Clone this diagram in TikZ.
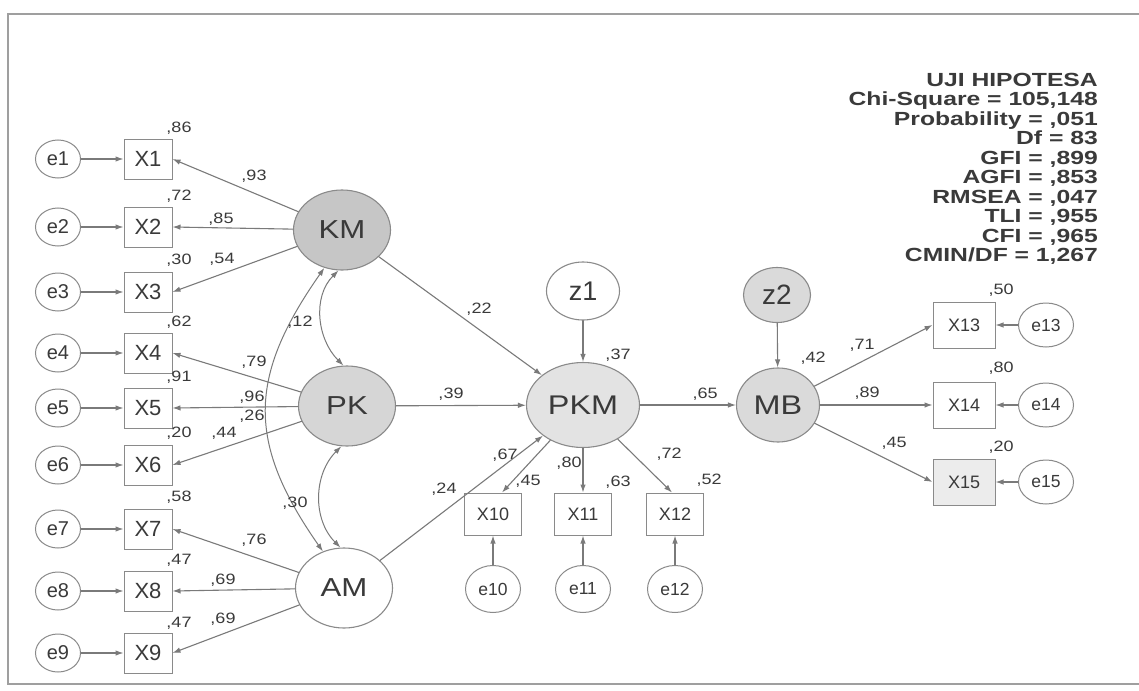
\documentclass[tikz,border=0pt]{standalone}
\usepackage{fontspec}
\setmainfont{Liberation Sans}
\newfontfamily\widesans[FakeStretch=1.2]{Liberation Sans}
\newfontfamily\statsans[FakeStretch=1.3]{Liberation Sans}
\usetikzlibrary{shapes.geometric,arrows.meta}

\definecolor{linegray}{HTML}{7A7A7A}
\definecolor{edgegray}{HTML}{8A8A8A}
\definecolor{txtgray}{HTML}{3A3A3A}
\definecolor{fillKM}{HTML}{C6C6C6}
\definecolor{fillPK}{HTML}{D6D6D6}
\definecolor{fillPKM}{HTML}{E3E3E3}
\definecolor{fillMB}{HTML}{DADADA}

\begin{document}
\begin{tikzpicture}[x=1pt,y=-1pt,line cap=round,
  every node/.style={text=txtgray},
  latent/.style={ellipse, draw=edgegray, line width=1.1pt, inner sep=0pt,
    minimum width=97pt, minimum height=80pt, font=\widesans\fontsize{26}{26}\selectfont},
  err/.style={ellipse, draw=edgegray, line width=1pt, inner sep=0pt,
    minimum width=45pt, minimum height=38pt, font=\fontsize{20}{20}\selectfont},
  obs/.style={rectangle, draw=edgegray, line width=1pt, inner sep=0pt,
    minimum width=48pt, minimum height=40pt, font=\fontsize{22}{22}\selectfont},
  smallobs/.style={obs, minimum width=57pt, minimum height=42pt, font=\fontsize{18}{18}\selectfont},
  smallerr/.style={err, minimum width=55pt, minimum height=47pt, font=\fontsize{17.5}{17.5}\selectfont},
  num/.style={inner sep=0pt, font=\widesans\fontsize{15}{15}\selectfont},
  path/.style={draw=linegray, line width=1.1pt, -{Latex[length=8pt,width=5.5pt]}},
  cov/.style={draw=linegray, line width=1pt,
    {Latex[length=8pt,width=5.5pt]}-{Latex[length=8pt,width=5.5pt]}}]

  \fill[white] (0,0) rectangle (1139,690);
  \useasboundingbox (0,0) rectangle (1139,690);
  % frame
  \draw[gray!75, line width=1.5pt] (1139,14) -- (8,14) -- (8,684) -- (1139,684);

  % ---------------- latent variables ----------------
  \node[latent, fill=fillKM] (KM) at (342,230) {KM};
  \node[latent, fill=fillPK] (PK) at (347,406) {PK};
  \node[latent, fill=white] (AM) at (344,588) {AM};
  \node[latent, fill=fillPKM, minimum width=113pt, minimum height=85pt,
    font=\widesans\fontsize{27}{27}\selectfont] (PKM) at (583,405) {PKM};
  \node[latent, fill=fillMB, minimum width=83pt, minimum height=74pt,
    font=\widesans\fontsize{27}{27}\selectfont] (MB) at (778,405) {MB};
  \node[latent, fill=white, minimum width=73pt, minimum height=58pt,
    font=\fontsize{27}{27}\selectfont] (z1) at (583,291) {z1};
  \node[latent, fill=fillMB, minimum width=67pt, minimum height=55pt,
    font=\fontsize{28}{28}\selectfont] (z2) at (777,295) {z2};

  % ---------------- left indicators ----------------
  \foreach \i/\y in {1/159,2/227,3/292,4/353,5/408,6/465,7/529,8/591,9/653}{
    \node[err] (e\i) at (58,\y) {e\i};
    \node[obs] (X\i) at (148,\y) {X\i};
    \draw[path] (e\i) -- (X\i);
  }
  \foreach \lat/\i in {KM/1,KM/2,KM/3,PK/4,PK/5,PK/6,AM/7,AM/8,AM/9}
    \draw[path] (\lat) -- (X\i.east);

  % ---------------- PKM indicators ----------------
  \foreach \i/\x in {10/493,11/583,12/675}{
    \node[smallobs] (X\i) at (\x,514) {X\i};
    \node[smallerr] (e\i) at (\x,589) {e\i};
    \draw[path] (e\i) -- (X\i);
  }
  \draw[path] (PKM) -- ([xshift=9pt]X10.north);
  \draw[path] (PKM) -- (X11);
  \draw[path] (PKM) -- ([xshift=-3pt]X12.north);

  % ---------------- MB indicators ----------------
  \node[smallobs, minimum width=62pt, minimum height=46pt] (X13) at (964,325) {X13};
  \node[smallobs, minimum width=62pt, minimum height=46pt] (X14) at (964,405) {X14};
  \node[smallobs, minimum width=62pt, minimum height=46pt, fill=gray!15] (X15) at (964,482) {X15};
  \foreach \i/\y in {13/325,14/405,15/482}{
    \node[smallerr, minimum width=55pt, minimum height=44pt] (e\i) at (1046,\y) {e\i};
    \draw[path] (e\i) -- (X\i);
  }
  \foreach \i in {13,14,15}
    \draw[path] (MB) -- (X\i.west);

  % ---------------- structural paths ----------------
  \draw[path] (KM) -- (PKM);
  \draw[path] (PK) -- (PKM);
  \draw[path] (AM) -- (PKM);
  \draw[path] (PKM) -- (MB);
  \draw[path] (z1) -- (PKM);
  \draw[path] (z2) -- (MB);

  % ---------------- covariances ----------------
  \draw[cov] (KM.265) to[out=225,in=135] (PK.95);
  \draw[cov] (PK.262) to[out=225,in=135] (AM.95);
  \draw[cov] (KM.245) to[out=235,in=125,looseness=1.2] (AM.120);

  % ---------------- estimates ----------------
  \foreach \t/\x/\y [count=\n] in {
      {,86}/179/128,{,72}/179/196,{,30}/179/260,{,62}/179/322,{,91}/179/377,
      {,20}/179/433,{,58}/179/497,{,47}/179/560,{,47}/179/623,
      {,93}/254/176,{,85}/221/219,{,54}/222/259,{,79}/254/362,{,96}/252/397,
      {,26}/252/416,{,44}/224/433,{,76}/254/540,{,69}/223/580,{,69}/223/619,
      {,12}/300/322,{,30}/295/503,{,22}/479/309,{,39}/451/394,{,24}/444/489,
      {,37}/618/355,{,65}/705/394,{,67}/505/455,{,45}/528/481,{,80}/569/463,
      {,63}/618/482,{,72}/669/454,{,52}/709/480,{,42}/813/358,{,71}/862/345,
      {,89}/867/393,{,45}/894/443,{,50}/1001/290,{,80}/1001/368,{,20}/1001/447}
    \node[num] (est\n) at (\x,\y) {\t};

  % ---------------- fit indices ----------------
  \node[anchor=north east, inner sep=0pt, align=right,
    font=\statsans\bfseries\fontsize{19}{19.5}\selectfont] (fit) at (1098,73)
    {UJI HIPOTESA\\Chi-Square = 105,148\\Probability = ,051\\Df = 83\\GFI = ,899\\
     AGFI = ,853\\RMSEA = ,047\\TLI = ,955\\CFI = ,965\\CMIN/DF = 1,267};
\end{tikzpicture}
\end{document}
